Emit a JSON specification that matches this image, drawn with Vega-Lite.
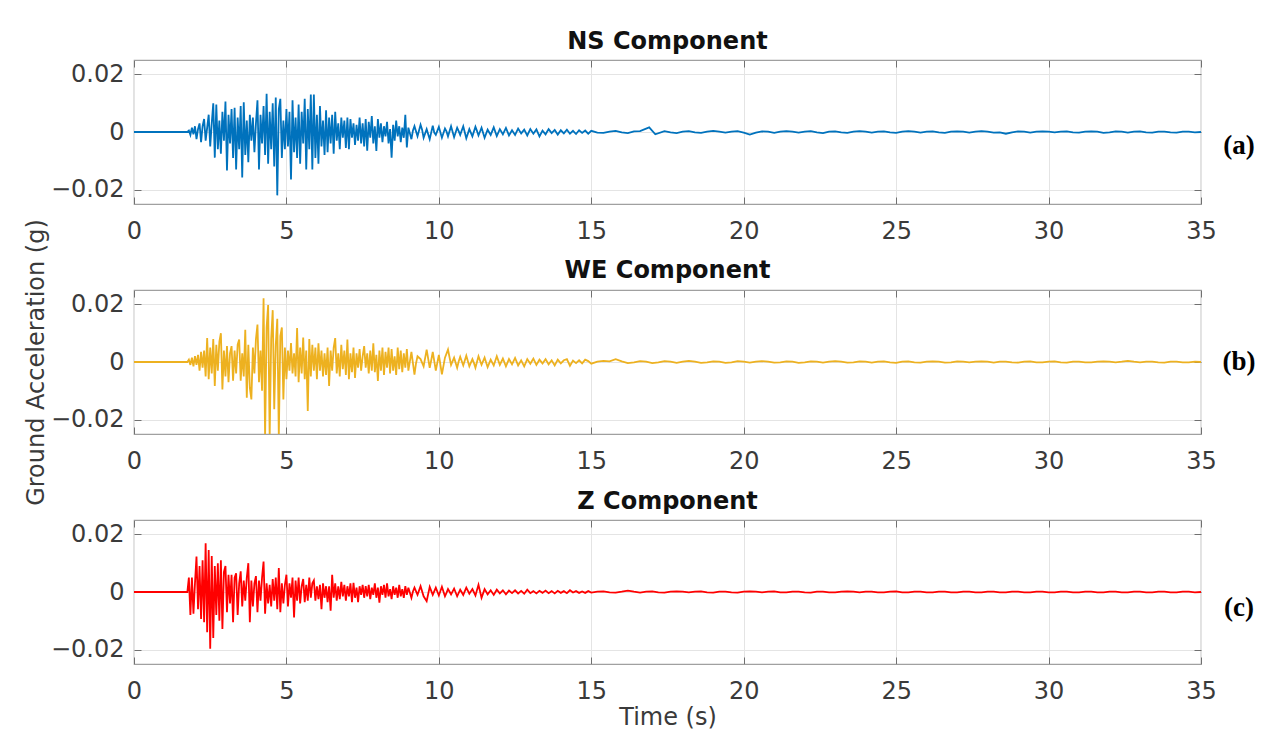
{
"$schema":"https://vega.github.io/schema/vega-lite/v6.json",
"padding":{"left":23,"top":28,"right":5,"bottom":5},
"background":"white",
"spacing":86,
"bounds":"flush",
"config":{
 "view":{"stroke":"#a0a0a0","strokeWidth":1.2},
 "axis":{"labelFont":"DejaVu Sans","labelFontSize":24,"labelColor":"#3a3a3a","titleFont":"DejaVu Sans","titleFontSize":24,"titleFontWeight":"normal","titleColor":"#3a3a3a","tickColor":"#707070","gridColor":"#e4e4e4","domain":false,"tickSize":-7,"labelFlush":false},
 "title":{"font":"DejaVu Sans","fontSize":24,"fontWeight":"bold","color":"#111111","offset":6}
},
"datasets":{
"ns":[{"t":0,"g":0},{"t":1.75,"g":0},{"t":1.8,"g":0.0005},{"t":1.85,"g":-0.001},{"t":1.9,"g":0.0015},{"t":1.95,"g":-0.0008},{"t":2.0,"g":0.002},{"t":2.05,"g":-0.0025},{"t":2.1,"g":0.001},{"t":2.15,"g":0.003},{"t":2.2,"g":-0.0035},{"t":2.25,"g":0.002},{"t":2.3,"g":0.0045},{"t":2.35,"g":-0.003},{"t":2.4,"g":0.0015},{"t":2.45,"g":0.006},{"t":2.5,"g":-0.005},{"t":2.55,"g":0.003},{"t":2.6,"g":0.01},{"t":2.65,"g":-0.0089},{"t":2.7,"g":0.0095},{"t":2.75,"g":-0.006},{"t":2.8,"g":0.004},{"t":2.85,"g":-0.0075},{"t":2.9,"g":0.007},{"t":2.95,"g":-0.003},{"t":3.0,"g":0.0106},{"t":3.05,"g":-0.0134},{"t":3.1,"g":0.006},{"t":3.15,"g":-0.004},{"t":3.2,"g":0.008},{"t":3.25,"g":-0.009},{"t":3.3,"g":0.0084},{"t":3.35,"g":-0.013},{"t":3.4,"g":0.005},{"t":3.45,"g":-0.006},{"t":3.5,"g":0.009},{"t":3.55,"g":-0.0158},{"t":3.6,"g":0.0103},{"t":3.65,"g":-0.008},{"t":3.7,"g":0.004},{"t":3.75,"g":-0.0105},{"t":3.8,"g":0.006},{"t":3.85,"g":-0.003},{"t":3.9,"g":0.005},{"t":3.95,"g":-0.007},{"t":4.0,"g":0.003},{"t":4.05,"g":0.011},{"t":4.1,"g":-0.013},{"t":4.15,"g":0.006},{"t":4.2,"g":-0.004},{"t":4.25,"g":0.009},{"t":4.3,"g":-0.008},{"t":4.35,"g":0.0133},{"t":4.4,"g":-0.011},{"t":4.45,"g":0.007},{"t":4.5,"g":-0.006},{"t":4.55,"g":0.01},{"t":4.6,"g":-0.012},{"t":4.65,"g":0.012},{"t":4.7,"g":-0.022},{"t":4.75,"g":0.008},{"t":4.8,"g":0.0115},{"t":4.85,"g":-0.009},{"t":4.9,"g":0.004},{"t":4.95,"g":-0.006},{"t":5.0,"g":0.008},{"t":5.05,"g":-0.005},{"t":5.1,"g":0.007},{"t":5.15,"g":-0.0165},{"t":5.2,"g":0.011},{"t":5.25,"g":-0.007},{"t":5.3,"g":0.005},{"t":5.35,"g":-0.009},{"t":5.4,"g":0.0095},{"t":5.45,"g":-0.011},{"t":5.5,"g":0.007},{"t":5.55,"g":-0.004},{"t":5.6,"g":0.0115},{"t":5.65,"g":-0.013},{"t":5.7,"g":0.008},{"t":5.75,"g":-0.006},{"t":5.8,"g":0.013},{"t":5.85,"g":-0.013},{"t":5.9,"g":0.013},{"t":5.95,"g":-0.009},{"t":6.0,"g":0.006},{"t":6.05,"g":-0.011},{"t":6.1,"g":0.009},{"t":6.15,"g":-0.005},{"t":6.2,"g":0.004},{"t":6.25,"g":-0.008},{"t":6.3,"g":0.0075},{"t":6.35,"g":-0.007},{"t":6.4,"g":0.005},{"t":6.45,"g":-0.004},{"t":6.5,"g":0.006},{"t":6.55,"g":-0.0075},{"t":6.6,"g":0.007},{"t":6.65,"g":-0.003},{"t":6.7,"g":0.003},{"t":6.75,"g":-0.006},{"t":6.8,"g":0.005},{"t":6.85,"g":-0.002},{"t":6.9,"g":0.004},{"t":6.95,"g":-0.0055},{"t":7.0,"g":0.005},{"t":7.05,"g":-0.006},{"t":7.1,"g":0.0045},{"t":7.15,"g":-0.002},{"t":7.2,"g":0.003},{"t":7.25,"g":-0.0045},{"t":7.3,"g":0.0025},{"t":7.35,"g":-0.003},{"t":7.4,"g":0.005},{"t":7.45,"g":-0.004},{"t":7.5,"g":0.003},{"t":7.55,"g":-0.005},{"t":7.6,"g":0.0045},{"t":7.65,"g":-0.0065},{"t":7.7,"g":0.0035},{"t":7.75,"g":-0.002},{"t":7.8,"g":0.0055},{"t":7.85,"g":-0.004},{"t":7.9,"g":0.002},{"t":7.95,"g":-0.0066},{"t":8.0,"g":0.0045},{"t":8.05,"g":-0.002},{"t":8.1,"g":0.003},{"t":8.15,"g":-0.0035},{"t":8.2,"g":0.002},{"t":8.25,"g":-0.0015},{"t":8.3,"g":0.0035},{"t":8.35,"g":-0.004},{"t":8.4,"g":0.001},{"t":8.45,"g":-0.0089},{"t":8.5,"g":0.0025},{"t":8.55,"g":-0.003},{"t":8.6,"g":0.004},{"t":8.65,"g":-0.0015},{"t":8.7,"g":0.002},{"t":8.75,"g":-0.0035},{"t":8.8,"g":0.0015},{"t":8.85,"g":-0.002},{"t":8.9,"g":0.006},{"t":8.95,"g":-0.0054},{"t":9.0,"g":0.0015},{"t":9.1,"g":-0.0025},{"t":9.15,"g":0.0005},{"t":9.2,"g":0.002},{"t":9.3,"g":-0.0015},{"t":9.4,"g":0.0025},{"t":9.45,"g":0.0008},{"t":9.5,"g":-0.002},{"t":9.6,"g":0.001},{"t":9.7,"g":-0.0025},{"t":9.8,"g":0.0022},{"t":9.85,"g":-0.0002},{"t":9.9,"g":-0.001},{"t":10.0,"g":0.0018},{"t":10.1,"g":-0.002},{"t":10.2,"g":0.0012},{"t":10.25,"g":0.0002},{"t":10.3,"g":-0.0015},{"t":10.4,"g":0.002},{"t":10.5,"g":-0.0018},{"t":10.6,"g":0.0015},{"t":10.65,"g":0.0003},{"t":10.7,"g":-0.001},{"t":10.8,"g":0.002},{"t":10.9,"g":-0.0022},{"t":11.0,"g":0.001},{"t":11.1,"g":-0.0015},{"t":11.2,"g":0.0018},{"t":11.25,"g":0.0004},{"t":11.3,"g":-0.0012},{"t":11.4,"g":0.0015},{"t":11.5,"g":-0.002},{"t":11.6,"g":0.0008},{"t":11.7,"g":-0.001},{"t":11.8,"g":0.0016},{"t":11.9,"g":-0.0014},{"t":12.0,"g":0.001},{"t":12.1,"g":-0.0008},{"t":12.2,"g":0.0014},{"t":12.3,"g":-0.0012},{"t":12.4,"g":0.0006},{"t":12.5,"g":-0.001},{"t":12.6,"g":0.0012},{"t":12.7,"g":-0.0005},{"t":12.8,"g":0.0008},{"t":12.9,"g":-0.0012},{"t":13.0,"g":0.001},{"t":13.1,"g":-0.0006},{"t":13.2,"g":0.0009},{"t":13.3,"g":-0.0015},{"t":13.4,"g":0.0005},{"t":13.5,"g":-0.0008},{"t":13.6,"g":0.001},{"t":13.7,"g":-0.0004},{"t":13.8,"g":0.0007},{"t":13.9,"g":-0.0009},{"t":14.0,"g":0.0006},{"t":14.1,"g":-0.0005},{"t":14.2,"g":0.0008},{"t":14.3,"g":-0.0006},{"t":14.4,"g":0.0004},{"t":14.5,"g":-0.0007},{"t":14.6,"g":0.0006},{"t":14.7,"g":-0.0003},{"t":14.8,"g":0.0005},{"t":14.9,"g":-0.0006},{"t":15.0,"g":0.0004},{"t":15.2,"g":-0.0002},{"t":15.4,"g":-0.0003},{"t":15.6,"g":0.0001},{"t":15.8,"g":0.0004},{"t":16.0,"g":-0.0001},{"t":16.2,"g":-0.0004},{"t":16.4,"g":0.0002},{"t":16.6,"g":0.0003},{"t":16.9,"g":0.0016},{"t":17.1,"g":-0.0008},{"t":17.4,"g":0.0003},{"t":17.6,"g":-0.0001},{"t":17.8,"g":-0.0004},{"t":18.0,"g":0.0001},{"t":18.2,"g":0.0003},{"t":18.4,"g":-0.0001},{"t":18.6,"g":-0.0003},{"t":18.8,"g":0.0001},{"t":19.0,"g":0.0004},{"t":19.2,"g":0.0001},{"t":19.4,"g":-0.0002},{"t":19.6,"g":0.0001},{"t":19.8,"g":0.0003},{"t":20.0,"g":-0.0002},{"t":20.2,"g":-0.0009},{"t":20.4,"g":-0.0002},{"t":20.6,"g":0.0002},{"t":20.8,"g":0.0001},{"t":21.0,"g":-0.0003},{"t":21.2,"g":0.0001},{"t":21.4,"g":0.0003},{"t":21.6,"g":0.0001},{"t":21.8,"g":-0.0002},{"t":22.0,"g":0.0001},{"t":22.2,"g":0.0003},{"t":22.4,"g":-0.0001},{"t":22.6,"g":-0.0004},{"t":22.8,"g":0.0001},{"t":23.0,"g":0.0002},{"t":23.2,"g":-0.0001},{"t":23.4,"g":-0.0003},{"t":23.6,"g":0.0001},{"t":23.8,"g":0.0003},{"t":24.0,"g":0.0001},{"t":24.2,"g":-0.0002},{"t":24.4,"g":0.0001},{"t":24.6,"g":0.0002},{"t":24.8,"g":-0.0001},{"t":25.0,"g":-0.0003},{"t":25.2,"g":0.0001},{"t":25.4,"g":0.0003},{"t":25.6,"g":0.0001},{"t":25.8,"g":-0.0002},{"t":26.0,"g":0.0001},{"t":26.2,"g":0.0002},{"t":26.4,"g":-0.0001},{"t":26.6,"g":-0.0003},{"t":26.8,"g":0.0001},{"t":27.0,"g":0.0002},{"t":27.2,"g":0.0001},{"t":27.4,"g":-0.0002},{"t":27.6,"g":0.0001},{"t":27.8,"g":0.0003},{"t":28.0,"g":0.0001},{"t":28.2,"g":-0.0002},{"t":28.4,"g":-0.0001},{"t":28.6,"g":-0.0006},{"t":28.8,"g":-0.0001},{"t":29.0,"g":0.0002},{"t":29.2,"g":0.0001},{"t":29.4,"g":-0.0002},{"t":29.6,"g":0.0001},{"t":29.8,"g":0.0002},{"t":30.0,"g":0.0001},{"t":30.2,"g":-0.0001},{"t":30.4,"g":0.0001},{"t":30.6,"g":0.0002},{"t":30.8,"g":-0.0001},{"t":31.0,"g":-0.0002},{"t":31.2,"g":0.0001},{"t":31.4,"g":0.0002},{"t":31.6,"g":0.0001},{"t":31.8,"g":-0.0003},{"t":32.0,"g":-0.0001},{"t":32.2,"g":0.0002},{"t":32.4,"g":0.0001},{"t":32.6,"g":-0.0002},{"t":32.8,"g":0.0001},{"t":33.0,"g":0.0002},{"t":33.2,"g":-0.0001},{"t":33.4,"g":-0.0002},{"t":33.6,"g":0.0001},{"t":33.8,"g":0.0001},{"t":34.0,"g":-0.0001},{"t":34.2,"g":-0.0002},{"t":34.4,"g":0.0001},{"t":34.6,"g":0.0001},{"t":34.8,"g":-0.0001},{"t":35.0,"g":0}],
"we":[{"t":0,"g":0},{"t":1.75,"g":0},{"t":1.8,"g":0.0008},{"t":1.85,"g":-0.001},{"t":1.9,"g":0.0015},{"t":1.95,"g":-0.0015},{"t":2.0,"g":0.002},{"t":2.05,"g":-0.001},{"t":2.1,"g":0.0025},{"t":2.15,"g":-0.003},{"t":2.2,"g":0.0035},{"t":2.25,"g":-0.002},{"t":2.3,"g":0.004},{"t":2.35,"g":-0.005},{"t":2.4,"g":0.0083},{"t":2.45,"g":-0.006},{"t":2.5,"g":0.005},{"t":2.55,"g":-0.004},{"t":2.6,"g":0.008},{"t":2.65,"g":-0.0083},{"t":2.7,"g":0.006},{"t":2.75,"g":-0.003},{"t":2.8,"g":0.007},{"t":2.85,"g":0.01},{"t":2.9,"g":-0.0095},{"t":2.95,"g":0.004},{"t":3.0,"g":-0.005},{"t":3.05,"g":0.0055},{"t":3.1,"g":-0.007},{"t":3.15,"g":0.003},{"t":3.2,"g":0.0055},{"t":3.25,"g":-0.0065},{"t":3.3,"g":0.004},{"t":3.35,"g":-0.004},{"t":3.4,"g":0.006},{"t":3.45,"g":0.0078},{"t":3.5,"g":-0.0065},{"t":3.55,"g":0.003},{"t":3.6,"g":-0.005},{"t":3.65,"g":0.0112},{"t":3.7,"g":-0.0124},{"t":3.75,"g":0.006},{"t":3.8,"g":-0.009},{"t":3.85,"g":-0.013},{"t":3.9,"g":0.005},{"t":3.95,"g":-0.004},{"t":4.0,"g":0.008},{"t":4.05,"g":0.013},{"t":4.1,"g":-0.007},{"t":4.15,"g":0.004},{"t":4.2,"g":-0.01},{"t":4.25,"g":0.0221},{"t":4.3,"g":-0.026},{"t":4.35,"g":0.012},{"t":4.4,"g":0.0198},{"t":4.45,"g":-0.026},{"t":4.5,"g":0.008},{"t":4.55,"g":0.018},{"t":4.6,"g":-0.0164},{"t":4.65,"g":0.006},{"t":4.7,"g":0.015},{"t":4.75,"g":-0.026},{"t":4.8,"g":0.009},{"t":4.85,"g":0.012},{"t":4.9,"g":-0.013},{"t":4.95,"g":0.005},{"t":5.0,"g":-0.006},{"t":5.05,"g":0.004},{"t":5.1,"g":-0.003},{"t":5.15,"g":0.0066},{"t":5.2,"g":-0.004},{"t":5.25,"g":0.003},{"t":5.3,"g":-0.005},{"t":5.35,"g":0.0118},{"t":5.4,"g":-0.007},{"t":5.45,"g":0.005},{"t":5.5,"g":-0.004},{"t":5.55,"g":0.0085},{"t":5.6,"g":-0.006},{"t":5.65,"g":0.004},{"t":5.7,"g":-0.017},{"t":5.75,"g":0.008},{"t":5.8,"g":-0.005},{"t":5.85,"g":0.006},{"t":5.9,"g":-0.003},{"t":5.95,"g":0.005},{"t":6.0,"g":-0.006},{"t":6.05,"g":0.0065},{"t":6.1,"g":-0.003},{"t":6.15,"g":0.004},{"t":6.2,"g":-0.005},{"t":6.25,"g":0.003},{"t":6.3,"g":-0.0045},{"t":6.35,"g":0.005},{"t":6.4,"g":-0.0083},{"t":6.45,"g":0.004},{"t":6.5,"g":-0.003},{"t":6.55,"g":0.005},{"t":6.6,"g":0.0083},{"t":6.65,"g":-0.004},{"t":6.7,"g":0.003},{"t":6.75,"g":-0.005},{"t":6.8,"g":0.006},{"t":6.85,"g":-0.0025},{"t":6.9,"g":0.004},{"t":6.95,"g":-0.0045},{"t":7.0,"g":0.0078},{"t":7.05,"g":-0.006},{"t":7.1,"g":0.003},{"t":7.15,"g":-0.0035},{"t":7.2,"g":0.005},{"t":7.25,"g":-0.0055},{"t":7.3,"g":0.003},{"t":7.35,"g":-0.002},{"t":7.4,"g":0.0045},{"t":7.45,"g":-0.003},{"t":7.5,"g":0.002},{"t":7.55,"g":0.0055},{"t":7.6,"g":-0.002},{"t":7.65,"g":0.003},{"t":7.7,"g":-0.004},{"t":7.75,"g":0.004},{"t":7.8,"g":-0.003},{"t":7.85,"g":0.0065},{"t":7.9,"g":-0.0035},{"t":7.95,"g":0.0025},{"t":8.0,"g":-0.0066},{"t":8.05,"g":0.004},{"t":8.1,"g":-0.003},{"t":8.15,"g":0.005},{"t":8.2,"g":-0.0045},{"t":8.25,"g":0.0035},{"t":8.3,"g":-0.002},{"t":8.35,"g":0.005},{"t":8.4,"g":-0.004},{"t":8.45,"g":0.0045},{"t":8.5,"g":-0.003},{"t":8.55,"g":0.002},{"t":8.6,"g":-0.0045},{"t":8.65,"g":0.005},{"t":8.7,"g":-0.0025},{"t":8.75,"g":0.004},{"t":8.8,"g":-0.0035},{"t":8.85,"g":0.003},{"t":8.9,"g":-0.002},{"t":8.95,"g":0.0045},{"t":9.0,"g":-0.003},{"t":9.1,"g":0.0035},{"t":9.2,"g":-0.0044},{"t":9.25,"g":-0.0005},{"t":9.3,"g":0.002},{"t":9.4,"g":0.001},{"t":9.5,"g":-0.0015},{"t":9.6,"g":0.0043},{"t":9.7,"g":-0.002},{"t":9.75,"g":0.0006},{"t":9.8,"g":0.0035},{"t":9.9,"g":-0.003},{"t":10.0,"g":0.0025},{"t":10.1,"g":-0.0043},{"t":10.2,"g":0.0015},{"t":10.3,"g":0.0043},{"t":10.4,"g":-0.001},{"t":10.5,"g":0.0015},{"t":10.6,"g":-0.002},{"t":10.65,"g":0.0002},{"t":10.7,"g":0.0018},{"t":10.8,"g":-0.0012},{"t":10.9,"g":0.0022},{"t":11.0,"g":-0.0015},{"t":11.1,"g":0.001},{"t":11.15,"g":-0.0003},{"t":11.2,"g":-0.002},{"t":11.3,"g":0.002},{"t":11.4,"g":-0.001},{"t":11.5,"g":0.0015},{"t":11.6,"g":-0.0018},{"t":11.7,"g":0.0008},{"t":11.8,"g":-0.0012},{"t":11.9,"g":0.002},{"t":12.0,"g":-0.001},{"t":12.1,"g":0.0012},{"t":12.2,"g":-0.0015},{"t":12.3,"g":0.001},{"t":12.4,"g":-0.0008},{"t":12.5,"g":0.0014},{"t":12.6,"g":-0.0012},{"t":12.7,"g":0.0006},{"t":12.8,"g":-0.0015},{"t":12.9,"g":0.001},{"t":13.0,"g":-0.0006},{"t":13.1,"g":0.0012},{"t":13.2,"g":-0.001},{"t":13.3,"g":0.0008},{"t":13.4,"g":-0.0005},{"t":13.5,"g":0.001},{"t":13.6,"g":-0.0008},{"t":13.7,"g":0.0006},{"t":13.8,"g":-0.0012},{"t":13.9,"g":0.0008},{"t":14.0,"g":-0.0005},{"t":14.1,"g":0.0006},{"t":14.2,"g":0.001},{"t":14.3,"g":-0.0013},{"t":14.4,"g":0.0005},{"t":14.5,"g":-0.0004},{"t":14.6,"g":0.0006},{"t":14.7,"g":-0.0005},{"t":14.8,"g":0.0008},{"t":14.9,"g":0.0003},{"t":15.0,"g":-0.0006},{"t":15.2,"g":0.0001},{"t":15.4,"g":0.0004},{"t":15.6,"g":0.0002},{"t":15.8,"g":0.001},{"t":16.0,"g":0.0002},{"t":16.2,"g":-0.0004},{"t":16.4,"g":-0.0001},{"t":16.6,"g":0.0003},{"t":16.8,"g":0.0001},{"t":17.0,"g":-0.0004},{"t":17.2,"g":-0.0001},{"t":17.4,"g":0.0003},{"t":17.6,"g":0.0001},{"t":17.8,"g":-0.0003},{"t":18.0,"g":0.0001},{"t":18.2,"g":0.0004},{"t":18.4,"g":0.0001},{"t":18.6,"g":-0.0003},{"t":18.8,"g":-0.0001},{"t":19.0,"g":0.0002},{"t":19.2,"g":0.0001},{"t":19.4,"g":-0.0003},{"t":19.6,"g":-0.0001},{"t":19.8,"g":0.0003},{"t":20.0,"g":0.0001},{"t":20.2,"g":-0.0002},{"t":20.4,"g":0.0001},{"t":20.6,"g":0.0003},{"t":20.8,"g":0.0001},{"t":21.0,"g":-0.0002},{"t":21.2,"g":-0.0001},{"t":21.4,"g":0.0002},{"t":21.6,"g":0.0001},{"t":21.8,"g":-0.0003},{"t":22.0,"g":-0.0001},{"t":22.2,"g":0.0002},{"t":22.4,"g":0.0001},{"t":22.6,"g":-0.0002},{"t":22.8,"g":0.0001},{"t":23.0,"g":0.0003},{"t":23.2,"g":0.0001},{"t":23.4,"g":-0.0002},{"t":23.6,"g":-0.0001},{"t":23.8,"g":0.0002},{"t":24.0,"g":0.0001},{"t":24.2,"g":-0.0002},{"t":24.4,"g":0.0001},{"t":24.6,"g":0.0002},{"t":24.8,"g":-0.0001},{"t":25.0,"g":-0.0003},{"t":25.2,"g":0.0001},{"t":25.4,"g":0.0002},{"t":25.6,"g":-0.0001},{"t":25.8,"g":-0.0002},{"t":26.0,"g":0.0001},{"t":26.2,"g":0.0002},{"t":26.4,"g":0.0001},{"t":26.6,"g":-0.0002},{"t":26.8,"g":-0.0001},{"t":27.0,"g":0.0002},{"t":27.2,"g":0.0001},{"t":27.4,"g":-0.0001},{"t":27.6,"g":0.0001},{"t":27.8,"g":0.0002},{"t":28.0,"g":0.0001},{"t":28.2,"g":-0.0002},{"t":28.4,"g":0.0001},{"t":28.6,"g":0.0001},{"t":28.8,"g":-0.0001},{"t":29.0,"g":-0.0002},{"t":29.2,"g":0.0001},{"t":29.4,"g":0.0002},{"t":29.6,"g":-0.0001},{"t":29.8,"g":-0.0001},{"t":30.0,"g":0.0001},{"t":30.2,"g":0.0002},{"t":30.4,"g":-0.0001},{"t":30.6,"g":-0.0002},{"t":30.8,"g":0.0001},{"t":31.0,"g":0.0001},{"t":31.2,"g":-0.0001},{"t":31.4,"g":-0.0001},{"t":31.6,"g":0.0001},{"t":31.8,"g":0.0002},{"t":32.0,"g":0.0001},{"t":32.2,"g":-0.0001},{"t":32.4,"g":0.0001},{"t":32.6,"g":0.0004},{"t":32.8,"g":0.0001},{"t":33.0,"g":-0.0001},{"t":33.2,"g":0.0001},{"t":33.4,"g":0.0001},{"t":33.6,"g":-0.0001},{"t":33.8,"g":-0.0002},{"t":34.0,"g":0.0001},{"t":34.2,"g":0.0001},{"t":34.4,"g":-0.0001},{"t":34.6,"g":-0.0001},{"t":34.8,"g":0.0001},{"t":35.0,"g":0}],
"z":[{"t":0,"g":0},{"t":1.75,"g":0},{"t":1.8,"g":0.005},{"t":1.85,"g":-0.008},{"t":1.9,"g":0.005},{"t":1.95,"g":-0.0075},{"t":2.0,"g":0.003},{"t":2.05,"g":0.0123},{"t":2.1,"g":-0.006},{"t":2.15,"g":0.009},{"t":2.2,"g":-0.0094},{"t":2.25,"g":0.011},{"t":2.3,"g":-0.0105},{"t":2.35,"g":0.0169},{"t":2.4,"g":-0.014},{"t":2.45,"g":0.0146},{"t":2.5,"g":-0.0197},{"t":2.55,"g":0.0125},{"t":2.6,"g":-0.016},{"t":2.65,"g":0.009},{"t":2.7,"g":-0.008},{"t":2.75,"g":0.01},{"t":2.8,"g":-0.01},{"t":2.85,"g":0.011},{"t":2.9,"g":-0.0128},{"t":2.95,"g":0.007},{"t":3.0,"g":0.009},{"t":3.05,"g":-0.007},{"t":3.1,"g":0.006},{"t":3.15,"g":-0.004},{"t":3.2,"g":0.006},{"t":3.25,"g":-0.0105},{"t":3.3,"g":0.005},{"t":3.35,"g":0.0065},{"t":3.4,"g":-0.008},{"t":3.45,"g":0.003},{"t":3.5,"g":0.0072},{"t":3.55,"g":-0.005},{"t":3.6,"g":0.004},{"t":3.65,"g":-0.003},{"t":3.7,"g":0.005},{"t":3.75,"g":0.01},{"t":3.8,"g":-0.0105},{"t":3.85,"g":0.004},{"t":3.9,"g":-0.005},{"t":3.95,"g":0.003},{"t":4.0,"g":0.0055},{"t":4.05,"g":-0.007},{"t":4.1,"g":0.004},{"t":4.15,"g":-0.003},{"t":4.2,"g":0.005},{"t":4.25,"g":0.0106},{"t":4.3,"g":-0.0075},{"t":4.35,"g":0.003},{"t":4.4,"g":-0.004},{"t":4.45,"g":0.0025},{"t":4.5,"g":-0.005},{"t":4.55,"g":0.0045},{"t":4.6,"g":-0.003},{"t":4.65,"g":0.005},{"t":4.7,"g":-0.006},{"t":4.75,"g":0.0083},{"t":4.8,"g":-0.007},{"t":4.85,"g":0.003},{"t":4.9,"g":-0.004},{"t":4.95,"g":0.0025},{"t":5.0,"g":0.006},{"t":5.05,"g":-0.005},{"t":5.1,"g":0.003},{"t":5.15,"g":-0.002},{"t":5.2,"g":0.005},{"t":5.25,"g":-0.0088},{"t":5.3,"g":0.004},{"t":5.35,"g":-0.003},{"t":5.4,"g":0.005},{"t":5.45,"g":-0.004},{"t":5.5,"g":0.002},{"t":5.55,"g":0.0045},{"t":5.6,"g":-0.0035},{"t":5.65,"g":0.0025},{"t":5.7,"g":-0.003},{"t":5.75,"g":0.005},{"t":5.8,"g":-0.002},{"t":5.85,"g":0.003},{"t":5.9,"g":0.004},{"t":5.95,"g":-0.003},{"t":6.0,"g":0.002},{"t":6.05,"g":-0.0025},{"t":6.1,"g":0.0025},{"t":6.15,"g":-0.006},{"t":6.2,"g":0.003},{"t":6.25,"g":-0.002},{"t":6.3,"g":0.002},{"t":6.35,"g":-0.0035},{"t":6.4,"g":0.002},{"t":6.45,"g":-0.0065},{"t":6.5,"g":0.006},{"t":6.55,"g":-0.002},{"t":6.6,"g":0.003},{"t":6.65,"g":-0.003},{"t":6.7,"g":0.002},{"t":6.75,"g":-0.0025},{"t":6.8,"g":0.0035},{"t":6.85,"g":-0.0015},{"t":6.9,"g":0.0025},{"t":6.95,"g":-0.003},{"t":7.0,"g":0.002},{"t":7.05,"g":-0.0015},{"t":7.1,"g":0.003},{"t":7.15,"g":-0.0035},{"t":7.2,"g":0.0032},{"t":7.25,"g":-0.002},{"t":7.3,"g":0.0015},{"t":7.35,"g":-0.0035},{"t":7.4,"g":0.002},{"t":7.45,"g":-0.001},{"t":7.5,"g":0.0025},{"t":7.55,"g":-0.002},{"t":7.6,"g":0.002},{"t":7.65,"g":-0.0015},{"t":7.7,"g":0.0025},{"t":7.75,"g":-0.0025},{"t":7.8,"g":0.0015},{"t":7.85,"g":-0.001},{"t":7.9,"g":0.003},{"t":7.95,"g":-0.002},{"t":8.0,"g":0.0015},{"t":8.05,"g":-0.0037},{"t":8.1,"g":0.002},{"t":8.15,"g":-0.001},{"t":8.2,"g":0.0025},{"t":8.25,"g":-0.002},{"t":8.3,"g":0.003},{"t":8.35,"g":-0.0015},{"t":8.4,"g":0.001},{"t":8.45,"g":-0.0025},{"t":8.5,"g":0.002},{"t":8.55,"g":-0.001},{"t":8.6,"g":0.0015},{"t":8.65,"g":-0.002},{"t":8.7,"g":0.0025},{"t":8.75,"g":-0.0015},{"t":8.8,"g":0.001},{"t":8.85,"g":-0.002},{"t":8.9,"g":0.002},{"t":8.95,"g":-0.001},{"t":9.0,"g":0.0015},{"t":9.1,"g":-0.002},{"t":9.15,"g":0.0002},{"t":9.2,"g":0.0015},{"t":9.3,"g":-0.001},{"t":9.4,"g":0.002},{"t":9.5,"g":-0.0015},{"t":9.6,"g":-0.0032},{"t":9.7,"g":0.0018},{"t":9.75,"g":0.0004},{"t":9.8,"g":-0.001},{"t":9.9,"g":0.0015},{"t":10.0,"g":-0.0012},{"t":10.1,"g":0.0018},{"t":10.2,"g":-0.0015},{"t":10.25,"g":-0.0003},{"t":10.3,"g":0.001},{"t":10.4,"g":-0.0008},{"t":10.5,"g":0.0012},{"t":10.6,"g":-0.0015},{"t":10.7,"g":0.0008},{"t":10.75,"g":-0.0001},{"t":10.8,"g":-0.001},{"t":10.9,"g":0.0015},{"t":11.0,"g":-0.0006},{"t":11.1,"g":0.001},{"t":11.2,"g":-0.0012},{"t":11.3,"g":0.0025},{"t":11.4,"g":-0.002},{"t":11.5,"g":0.001},{"t":11.6,"g":-0.0008},{"t":11.7,"g":0.0006},{"t":11.8,"g":-0.001},{"t":11.9,"g":0.0008},{"t":12.0,"g":-0.0005},{"t":12.1,"g":0.0006},{"t":12.2,"g":-0.0008},{"t":12.3,"g":0.0005},{"t":12.4,"g":-0.0004},{"t":12.5,"g":0.0006},{"t":12.6,"g":-0.0005},{"t":12.7,"g":0.0004},{"t":12.8,"g":-0.0006},{"t":12.9,"g":0.0008},{"t":13.0,"g":-0.0004},{"t":13.1,"g":0.0003},{"t":13.2,"g":-0.0005},{"t":13.3,"g":0.0004},{"t":13.4,"g":-0.0003},{"t":13.5,"g":0.0005},{"t":13.6,"g":-0.0004},{"t":13.7,"g":0.0003},{"t":13.8,"g":-0.0005},{"t":13.9,"g":0.0004},{"t":14.0,"g":-0.0003},{"t":14.1,"g":0.0003},{"t":14.2,"g":-0.0004},{"t":14.3,"g":0.0006},{"t":14.4,"g":-0.0002},{"t":14.5,"g":0.0003},{"t":14.6,"g":-0.0003},{"t":14.7,"g":0.0002},{"t":14.8,"g":-0.0003},{"t":14.9,"g":0.0003},{"t":15.0,"g":-0.0002},{"t":15.2,"g":0.0001},{"t":15.4,"g":0.0002},{"t":15.6,"g":-0.0001},{"t":15.8,"g":-0.0002},{"t":16.0,"g":0.0001},{"t":16.2,"g":0.0005},{"t":16.4,"g":0.0001},{"t":16.6,"g":-0.0002},{"t":16.8,"g":0.0001},{"t":17.0,"g":0.0002},{"t":17.2,"g":-0.0001},{"t":17.4,"g":-0.0002},{"t":17.6,"g":0.0001},{"t":17.8,"g":0.0002},{"t":18.0,"g":0.0001},{"t":18.2,"g":-0.0001},{"t":18.4,"g":0.0001},{"t":18.6,"g":0.0002},{"t":18.8,"g":-0.0001},{"t":19.0,"g":-0.0002},{"t":19.2,"g":0.0001},{"t":19.4,"g":0.0001},{"t":19.6,"g":-0.0001},{"t":19.8,"g":-0.0002},{"t":20.0,"g":0.0001},{"t":20.2,"g":0.0002},{"t":20.4,"g":0.0001},{"t":20.6,"g":-0.0001},{"t":20.8,"g":0.0001},{"t":21.0,"g":0.0002},{"t":21.2,"g":-0.0001},{"t":21.4,"g":-0.0001},{"t":21.6,"g":0.0001},{"t":21.8,"g":0.0001},{"t":22.0,"g":-0.0001},{"t":22.2,"g":-0.0002},{"t":22.4,"g":0.0001},{"t":22.6,"g":0.0001},{"t":22.8,"g":-0.0001},{"t":23.0,"g":-0.0001},{"t":23.2,"g":0.0001},{"t":23.4,"g":0.0002},{"t":23.6,"g":0.0001},{"t":23.8,"g":-0.0001},{"t":24.0,"g":0.0001},{"t":24.2,"g":0.0001},{"t":24.4,"g":-0.0001},{"t":24.6,"g":-0.0001},{"t":24.8,"g":0.0001},{"t":25.0,"g":0.0002},{"t":25.2,"g":-0.0001},{"t":25.4,"g":-0.0001},{"t":25.6,"g":0.0001},{"t":25.8,"g":0.0001},{"t":26.0,"g":-0.0001},{"t":26.2,"g":-0.0001},{"t":26.4,"g":0.0001},{"t":26.6,"g":0.0001},{"t":26.8,"g":-0.0001},{"t":27.0,"g":-0.0001},{"t":27.2,"g":0.0001},{"t":27.4,"g":0.0001},{"t":27.6,"g":-0.0001},{"t":27.8,"g":-0.0001},{"t":28.0,"g":0.0001},{"t":28.2,"g":0.0001},{"t":28.4,"g":-0.0001},{"t":28.6,"g":-0.0001},{"t":28.8,"g":0.0001},{"t":29.0,"g":0.0001},{"t":29.2,"g":-0.0001},{"t":29.4,"g":-0.0001},{"t":29.6,"g":0.0001},{"t":29.8,"g":0.0001},{"t":30.0,"g":-0.0001},{"t":30.2,"g":-0.0001},{"t":30.4,"g":0.0001},{"t":30.6,"g":0.0001},{"t":30.8,"g":-0.0001},{"t":31.0,"g":-0.0001},{"t":31.2,"g":0.0001},{"t":31.4,"g":0.0001},{"t":31.6,"g":-0.0001},{"t":31.8,"g":-0.0001},{"t":32.0,"g":0.0001},{"t":32.2,"g":0.0001},{"t":32.4,"g":-0.0001},{"t":32.6,"g":-0.0001},{"t":32.8,"g":0.0001},{"t":33.0,"g":0.0001},{"t":33.2,"g":-0.0001},{"t":33.4,"g":-0.0001},{"t":33.6,"g":0.0001},{"t":33.8,"g":0.0001},{"t":34.0,"g":-0.0001},{"t":34.2,"g":-0.0001},{"t":34.4,"g":0.0001},{"t":34.6,"g":0.0001},{"t":34.8,"g":-0.0001},{"t":35.0,"g":0}]
},
"vconcat":[
 {"width":1067,"height":144,"title":"NS Component",
  "layer":[
   {"data":{"name":"ns"},"mark":{"type":"line","color":"#0072BD","strokeWidth":1.8,"clip":true},
    "encoding":{
     "x":{"field":"t","type":"quantitative","scale":{"domain":[0,35],"nice":false},"axis":{"title":null,"values":[0,5,10,15,20,25,30,35],"labelPadding":22,"grid":true}},
     "y":{"field":"g","type":"quantitative","scale":{"domain":[-0.025,0.025],"nice":false},"axis":{"title":null,"values":[-0.02,0,0.02],"format":".2~f","labelPadding":17,"grid":true}}}},
   {"data":{"values":[{"t":36.25,"g":-0.0048,"lab":"(a)"}]},"mark":{"type":"text","font":"Liberation Serif","fontWeight":"bold","fontSize":27,"color":"#000000","align":"center","baseline":"middle"},
    "encoding":{
     "x":{"field":"t","type":"quantitative","axis":{"orient":"top","title":null,"labels":false,"grid":false,"values":[0,5,10,15,20,25,30,35]}},
     "y":{"field":"g","type":"quantitative","axis":{"orient":"right","title":null,"labels":false,"grid":false,"values":[-0.02,0,0.02]}},
     "text":{"field":"lab"}}}
  ],
  "resolve":{"axis":{"x":"independent","y":"independent"}}},
 {"width":1067,"height":144,"title":{"text":"WE Component","offset":-64},
  "layer":[
   {"data":{"name":"we"},"mark":{"type":"line","color":"#EDB120","strokeWidth":1.8,"clip":true},
    "encoding":{
     "x":{"field":"t","type":"quantitative","scale":{"domain":[0,35],"nice":false},"axis":{"title":null,"values":[0,5,10,15,20,25,30,35],"labelPadding":22,"grid":true}},
     "y":{"field":"g","type":"quantitative","scale":{"domain":[-0.025,0.025],"nice":false},"axis":{"title":"Ground Acceleration (g)","titlePadding":2,"values":[-0.02,0,0.02],"format":".2~f","labelPadding":17,"grid":true}}}},
   {"data":{"values":[{"t":36.25,"g":0,"lab":"(b)"}]},"mark":{"type":"text","font":"Liberation Serif","fontWeight":"bold","fontSize":27,"color":"#000000","align":"center","baseline":"middle"},
    "encoding":{
     "x":{"field":"t","type":"quantitative","axis":{"orient":"top","title":null,"labels":false,"grid":false,"values":[0,5,10,15,20,25,30,35]}},
     "y":{"field":"g","type":"quantitative","axis":{"orient":"right","title":null,"labels":false,"grid":false,"values":[-0.02,0,0.02]}},
     "text":{"field":"lab"}}}
  ],
  "resolve":{"axis":{"x":"independent","y":"independent"}}},
 {"width":1067,"height":144,"title":"Z Component",
  "layer":[
   {"data":{"name":"z"},"mark":{"type":"line","color":"#FF0000","strokeWidth":1.8,"clip":true},
    "encoding":{
     "x":{"field":"t","type":"quantitative","scale":{"domain":[0,35],"nice":false},"axis":{"title":"Time (s)","titlePadding":2,"values":[0,5,10,15,20,25,30,35],"labelPadding":22,"grid":true}},
     "y":{"field":"g","type":"quantitative","scale":{"domain":[-0.025,0.025],"nice":false},"axis":{"title":null,"values":[-0.02,0,0.02],"format":".2~f","labelPadding":17,"grid":true}}}},
   {"data":{"values":[{"t":36.25,"g":-0.0057,"lab":"(c)"}]},"mark":{"type":"text","font":"Liberation Serif","fontWeight":"bold","fontSize":27,"color":"#000000","align":"center","baseline":"middle"},
    "encoding":{
     "x":{"field":"t","type":"quantitative","axis":{"orient":"top","title":null,"labels":false,"grid":false,"values":[0,5,10,15,20,25,30,35]}},
     "y":{"field":"g","type":"quantitative","axis":{"orient":"right","title":null,"labels":false,"grid":false,"values":[-0.02,0,0.02]}},
     "text":{"field":"lab"}}}
  ],
  "resolve":{"axis":{"x":"independent","y":"independent"}}}
]
}
